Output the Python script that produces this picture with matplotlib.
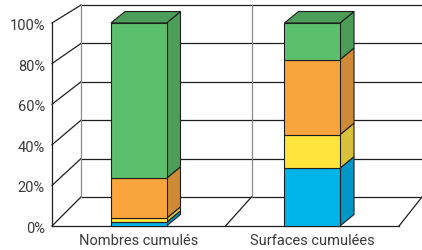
import numpy as np
import matplotlib.pyplot as plt
from matplotlib.patches import Polygon

# Data (percent of total, bottom -> top)
categories = ['Nombres cumulés', 'Surfaces cumulées']
blue = [1.8, 28.5]
yellow = [2.0, 16.5]
orange = [19.7, 37.0]
green = [76.5, 18.0]
yticks = [0, 20, 40, 60, 80, 100]
ytick_labels = ['0%', '20%', '40%', '60%', '80%', '100%']

series = [blue, yellow, orange, green]
front_cols = ['#00b4ea', '#ffe53b', '#f8a53e', '#5cbf6b']
side_cols = ['#0096c6', '#d8c13a', '#cf8a36', '#4b9d58']

# pseudo-3D projection, pixel space
def front(x, v):
    return 52 + x * 173.5, 227 - 2.03 * v

def back(x, v):
    return 81 + x * 170.5, 198 - 1.92 * v

bar_w = 0.32
dx, dy = 14, -11.5

fig = plt.figure(figsize=(4.22, 2.51), dpi=100)
ax = fig.add_axes([0, 0, 1, 1])
ax.set_xlim(0, 422)
ax.set_ylim(251, 0)
ax.axis('off')

lc = '#1e1e1e'
# back wall gridlines
for v in yticks:
    x0, y0 = back(0, v)
    x1, y1 = back(2, v)
    ax.plot([x0, x1], [y0, y1], color=lc, lw=0.9)
    # left wall diagonals
    fx, fy = front(0, v)
    ax.plot([fx, x0], [fy, y0], color=lc, lw=0.9)
# back wall verticals
for x in [0, 1]:
    bx0, by0 = back(x, 0)
    bx1, by1 = back(x, 100)
    ax.plot([bx0, bx1], [by0, by1], color='#8a8a8a', lw=0.9)
# front left vertical
fx0, fy0 = front(0, 0)
fx1, fy1 = front(0, 100)
ax.plot([fx0, fx1], [fy0, fy1], color=lc, lw=0.9)
# floor
ax.plot([front(0, 0)[0], front(2, 0)[0]], [front(0, 0)[1], front(2, 0)[1]], color=lc, lw=0.9)
for x in [1, 2]:
    ax.plot([front(x, 0)[0], back(x, 0)[0]], [front(x, 0)[1], back(x, 0)[1]], color=lc, lw=0.9)

# bars
for i, cat in enumerate(categories):
    xc = i + 0.5
    xl, xr = xc - bar_w / 2, xc + bar_w / 2
    bottom = 0
    for k, s in enumerate(series):
        top = bottom + s[i]
        l0 = front(xl, bottom); r0 = front(xr, bottom)
        l1 = front(xl, top); r1 = front(xr, top)
        face = [l0, r0, r1, l1]
        side = [r0, (r0[0] + dx, r0[1] + dy), (r1[0] + dx, r1[1] + dy), r1]
        ax.add_patch(Polygon(side, closed=True, fc=side_cols[k], ec=lc, lw=0.8, zorder=3))
        ax.add_patch(Polygon(face, closed=True, fc=front_cols[k], ec=lc, lw=0.8, zorder=4))
        if k == len(series) - 1:
            lid = [l1, r1, (r1[0] + dx, r1[1] + dy), (l1[0] + dx, l1[1] + dy)]
            ax.add_patch(Polygon(lid, closed=True, fc=side_cols[k], ec=lc, lw=0.8, zorder=3))
        bottom = top
    tx, ty = front(xc, 0)
    ax.text(tx, ty + 14, cat, ha='center', va='center', fontsize=10.5,
            family='Roboto', color='#3a3a3a')

for v, lab in zip(yticks, ytick_labels):
    x, y = front(0, v)
    ax.text(x - 7, y + 2, lab, ha='right', va='center', fontsize=10.5,
            family='Roboto', color='#3a3a3a')

fig.savefig('out.png', dpi=100)
